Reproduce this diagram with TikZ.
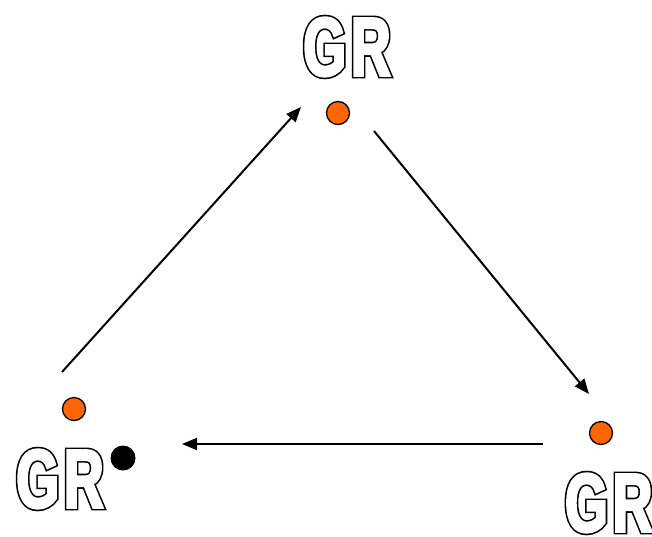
\documentclass[tikz,border=0pt]{standalone}
\usepackage{fontspec}
\usetikzlibrary{arrows.meta}
\newfontfamily\grfont[FakeStretch=0.66]{Liberation Sans Bold}
\definecolor{dotorange}{HTML}{FF6600}
\tikzset{
  grlabel/.style={inner sep=0pt,font=\grfont\fontsize{83}{83}\selectfont},
  gdot/.style={circle,draw=black,line width=1.3pt,fill=dotorange,minimum size=23pt,inner sep=0pt},
  bdot/.style={circle,fill=black,minimum size=25pt,inner sep=0pt},
  flow/.style={line width=2pt,-{Triangle[length=15pt,width=12pt]}}
}
\newcommand{\thick}[2]{\special{pdf:literal direct 2 Tr #1 w}#2\special{pdf:literal direct 0 Tr}}
\newcommand{\hollow}[1]{\rlap{\thick{5.8}{#1}}{\color{white}\thick{2.6}{#1}}}
\begin{document}
\begin{tikzpicture}[x=1pt,y=-1pt]
			\useasboundingbox (0,0) rectangle (652,536);
			\node[grlabel] (grtop) at (347,47) {\hollow{G\kern5pt R}};
			\node[grlabel] (grleft) at (60,479) {\hollow{G\kern5pt R}};
			\node[grlabel,anchor=west] (grright) at (565,503) {\hollow{G\kern5pt R}};
			\node[gdot] (dtop) at (338,113) {};
			\node[gdot] (dleft) at (74,409) {};
			\node[gdot] (dright) at (601,433) {};
			\node[bdot] (dblack) at (123,458) {};
			\coordinate (a1) at (62,372);
			\coordinate (a2) at (301,107);
			\coordinate (b1) at (374,131);
			\coordinate (b2) at (589,394);
			\coordinate (c1) at (543,444);
			\coordinate (c2) at (182,444);
			\draw[flow] (a1) -- (a2);
			\draw[flow] (b1) -- (b2);
			\draw[flow] (c1) -- (c2);
		\end{tikzpicture}
\end{document}
